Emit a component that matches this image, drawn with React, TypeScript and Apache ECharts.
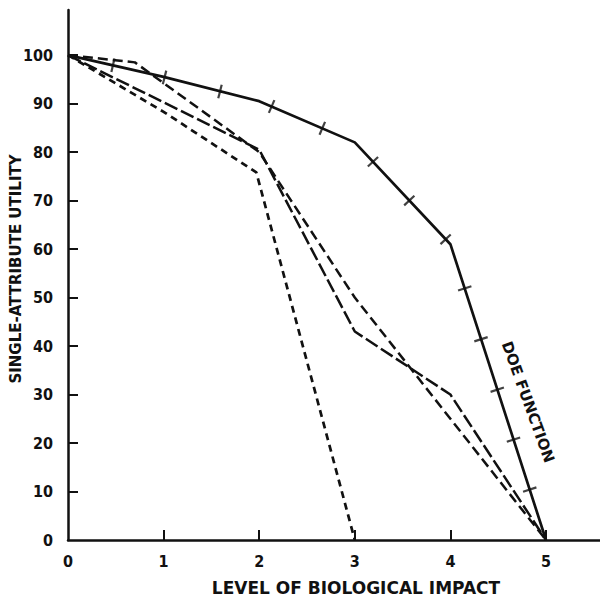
import React, { useEffect, useRef } from "react";
import * as echarts from "echarts";

const xTickValues = [0, 1, 2, 3, 4, 5];
const yTickValues = [0, 10, 20, 30, 40, 50, 60, 70, 80, 90, 100];

// DOE function (solid line with cross hatches)
const doeFunction: number[][] = [
  [0, 100], [1, 95.5], [2, 90.5], [3, 82], [4, 61], [5, 0],
];
const doeHatches: number[][] = [
  [0.47, 97.9], [1.01, 95.4], [1.59, 92.5], [2.13, 89.4], [2.66, 84.9],
  [3.19, 78.0], [3.57, 70.0], [3.95, 62.0], [4.15, 51.9], [4.32, 41.4],
  [4.49, 31.0], [4.66, 20.7], [4.83, 10.4],
];
// medium dashed curve
const curveA: number[][] = [
  [0, 100], [0.7, 98.5], [2, 80], [3, 50], [5, 0],
];
// long dashed curve
const curveB: number[][] = [
  [0, 100], [2, 80.5], [3, 43], [4, 30], [5, 0],
];
// short dashed curve
const curveC: number[][] = [
  [0, 100], [1, 88.3], [1.97, 75.8], [3, 0],
];

const X_MAX = 5.565;
const Y_MAX = 109.3;
const GRID = { left: 68, top: 10, width: 532, height: 530 };

const labelFont = "'Liberation Sans Narrow', 'DejaVu Sans Condensed', 'Liberation Sans', sans-serif";
const titleFont = "'DejaVu Sans', 'Liberation Sans', sans-serif";

function hatchRotation(p: number[]): number {
  const pxX = GRID.width / X_MAX;
  const pxY = GRID.height / Y_MAX;
  let seg = doeFunction.length - 2;
  for (let i = 0; i < doeFunction.length - 1; i++) {
    if (p[0] <= doeFunction[i + 1][0]) { seg = i; break; }
  }
  const a = doeFunction[seg];
  const b = doeFunction[seg + 1];
  const dx = (b[0] - a[0]) * pxX;
  const dy = (b[1] - a[1]) * pxY;
  return (Math.atan2(dy, dx) * 180) / Math.PI;
}

export default function App() {
  const ref = useRef<HTMLDivElement>(null);
  useEffect(() => {
    if (!ref.current) return;
    const chart = echarts.init(ref.current, null, { renderer: "svg" });
    const lineBase = { type: "line", showSymbol: false, symbol: "none", silent: true };
    chart.setOption({
      animation: false,
      backgroundColor: "#ffffff",
      grid: { ...GRID },
      xAxis: {
        type: "value",
        min: 0,
        max: X_MAX,
        interval: 1,
        splitLine: { show: false },
        axisLine: { show: true, lineStyle: { color: "#111", width: 2.5 } },
        axisTick: {
          show: true,
          inside: true,
          length: 10,
          customValues: xTickValues.slice(1),
          lineStyle: { color: "#111", width: 2 },
        },
        axisLabel: {
          customValues: xTickValues,
          margin: 13,
          color: "#111",
          fontFamily: labelFont,
          fontWeight: "bold",
          fontSize: 16,
          formatter: (v: number) => String(v),
        },
      },
      yAxis: {
        type: "value",
        min: 0,
        max: Y_MAX,
        interval: 10,
        splitLine: { show: false },
        axisLine: { show: true, lineStyle: { color: "#111", width: 2.5 } },
        axisTick: {
          show: true,
          inside: true,
          length: 10,
          customValues: yTickValues.slice(1),
          lineStyle: { color: "#111", width: 2 },
        },
        axisLabel: {
          customValues: yTickValues,
          margin: 15,
          color: "#111",
          fontFamily: labelFont,
          fontWeight: "bold",
          fontSize: 16,
          formatter: (v: number) => String(v),
        },
      },
      series: [
        {
          ...lineBase,
          name: "Short dash",
          data: curveC,
          lineStyle: { color: "#111", width: 2.7, type: [7, 5] },
        },
        {
          ...lineBase,
          name: "Long dash",
          data: curveB,
          lineStyle: { color: "#111", width: 2.5, type: [14, 4] },
        },
        {
          ...lineBase,
          name: "Medium dash",
          data: curveA,
          lineStyle: { color: "#111", width: 2.5, type: [10, 5] },
        },
        {
          ...lineBase,
          name: "DOE function",
          data: doeFunction,
          lineStyle: { color: "#111", width: 2.7, type: "solid" },
        },
        {
          type: "scatter",
          name: "DOE hatches",
          silent: true,
          symbol: "path://M0,0L2,0L2,12L0,12Z",
          symbolSize: [2.2, 14],
          itemStyle: { color: "#111" },
          data: doeHatches.map((p) => ({ value: p, symbolRotate: hatchRotation(p) })),
        },
      ],
      graphic: [
        {
          type: "text",
          x: 16,
          y: 269,
          rotation: Math.PI / 2,
          style: {
            text: "SINGLE-ATTRIBUTE UTILITY",
            fill: "#111",
            font: `bold 15px ${titleFont}`,
            align: "center",
            verticalAlign: "middle",
          },
        },
        {
          type: "text",
          x: 356,
          y: 588,
          style: {
            text: "LEVEL OF BIOLOGICAL IMPACT",
            fill: "#111",
            font: `bold 17px ${titleFont}`,
            align: "center",
            verticalAlign: "middle",
          },
        },
        {
          type: "text",
          x: 528,
          y: 402,
          rotation: (-70 * Math.PI) / 180,
          style: {
            text: "DOE FUNCTION",
            fill: "#111",
            font: `bold 15px ${titleFont}`,
            align: "center",
            verticalAlign: "middle",
          },
        },
      ],
    });
    return () => chart.dispose();
  }, []);
  return (
    <div
      ref={ref}
      style={{ position: "fixed", left: 0, top: 0, width: 600, height: 599, background: "#fff" }}
    />
  );
}
